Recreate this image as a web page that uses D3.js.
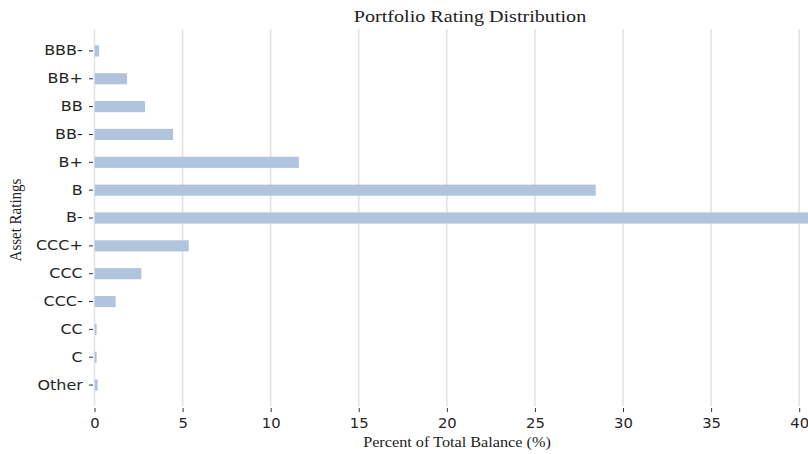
<!DOCTYPE html>
<html>
<head>
<meta charset="utf-8">
<script src="https://cdn.jsdelivr.net/npm/d3@7/dist/d3.min.js"></script>
<style>
  html, body { margin: 0; padding: 0; background: #fff; }
  svg { display: block; }
</style>
</head>
<body>
<div id="chart"></div>
<script>
const categories = ["BBB-", "BB+", "BB", "BB-", "B+", "B", "B-", "CCC+", "CCC", "CCC-", "CC", "C", "Other"];
const values = [0.26, 1.85, 2.87, 4.46, 11.6, 28.45, 40.9, 5.35, 2.66, 1.2, 0.12, 0.12, 0.18];
const xTicks = [0, 5, 10, 15, 20, 25, 30, 35, 40];
const title = "Portfolio Rating Distribution";
const xLabel = "Percent of Total Balance (%)";
const yLabel = "Asset Ratings";

const W = 808, H = 454;
const plot = { left: 94.5, right: 808, top: 29, bottom: 406 };
const stretch = 1.14;

const svg = d3.select("#chart").append("svg").attr("width", W).attr("height", H);

const x = d3.scaleLinear().domain([0, 40.5]).range([plot.left, plot.right]);
const y = d3.scaleBand().domain(categories).range([37, 399]).paddingInner(0.6).paddingOuter(0.3);

svg.append("defs").append("clipPath").attr("id", "clip")
  .append("rect").attr("x", plot.left).attr("y", 0).attr("width", plot.right - plot.left).attr("height", H);

// gridlines
svg.append("g").selectAll("line").data(xTicks).join("line")
  .attr("x1", d => x(d)).attr("x2", d => x(d))
  .attr("y1", plot.top).attr("y2", plot.bottom)
  .attr("stroke", "#e3e3e3").attr("stroke-width", 1.6);

// bars
svg.append("g").attr("clip-path", "url(#clip)").selectAll("rect").data(categories).join("rect")
  .attr("x", x(0))
  .attr("y", d => y(d))
  .attr("width", (d, i) => x(values[i]) - x(0))
  .attr("height", y.bandwidth())
  .attr("fill", "#b0c4de");

// x axis
const xAxis = svg.append("g").attr("transform", `translate(0,${plot.bottom + 2})`)
  .call(d3.axisBottom(x).tickValues(xTicks).tickSize(4).tickPadding(6));
xAxis.select(".domain").remove();
xAxis.selectAll(".tick line").attr("stroke", "#333");
xAxis.selectAll("text").attr("font-family", "DejaVu Sans, sans-serif").attr("font-size", 14).attr("fill", "#262626")
  .attr("transform", "scale(1.06,1)");

// y axis
const yAxis = svg.append("g").attr("transform", `translate(${plot.left - 1.5},0)`)
  .call(d3.axisLeft(y).tickSize(4).tickPadding(5));
yAxis.select(".domain").remove();
yAxis.selectAll(".tick line").attr("stroke", "#333");
yAxis.selectAll("text").attr("font-family", "DejaVu Sans, sans-serif").attr("font-size", 14).attr("fill", "#262626")
  .attr("transform", `scale(${stretch},1)`);

// title
svg.append("text").attr("transform", `translate(470,22) scale(1.15,1)`).attr("text-anchor", "middle")
  .attr("font-family", "Liberation Serif, serif").attr("font-size", 17.5).attr("fill", "#222")
  .text(title);

// x label
svg.append("text").attr("transform", `translate(457,447) scale(1.12,1)`).attr("text-anchor", "middle")
  .attr("font-family", "Liberation Serif, serif").attr("font-size", 14.5).attr("fill", "#222")
  .text(xLabel);

// y label
svg.append("text").attr("transform", `translate(21,220) scale(1.12,1) rotate(-90)`).attr("text-anchor", "middle")
  .attr("font-family", "Liberation Serif, serif").attr("font-size", 15).attr("fill", "#222")
  .text(yLabel);
</script>
</body>
</html>
